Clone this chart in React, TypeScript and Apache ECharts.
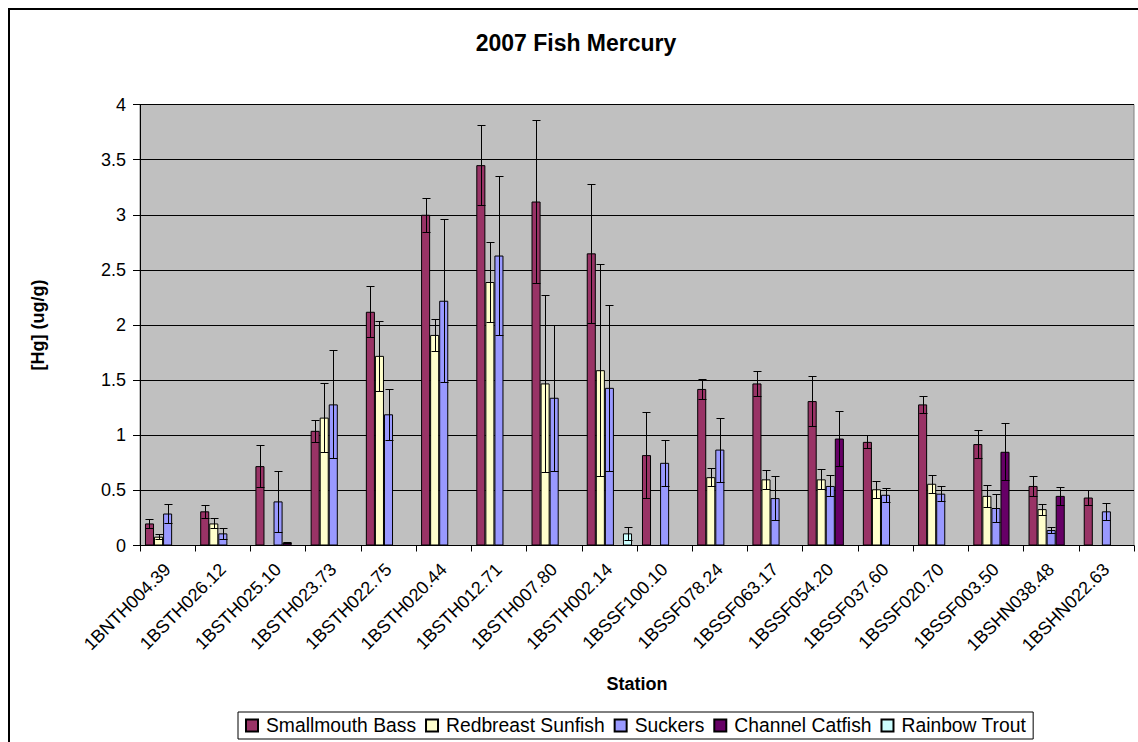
import React, { useEffect, useRef } from "react";
import * as echarts from "echarts";

const stations = [
  "1BNTH004.39", "1BSTH026.12", "1BSTH025.10", "1BSTH023.73", "1BSTH022.75",
  "1BSTH020.44", "1BSTH012.71", "1BSTH007.80", "1BSTH002.14", "1BSSF100.10",
  "1BSSF078.24", "1BSSF063.17", "1BSSF054.20", "1BSSF037.60", "1BSSF020.70",
  "1BSSF003.50", "1BSHN038.48", "1BSHN022.63",
];

const smallmouthBass = [0.20, 0.31, 0.72, 1.04, 2.12, 3.00, 3.45, 3.12, 2.65, 0.82, 1.42, 1.47, 1.31, 0.94, 1.28, 0.92, 0.54, 0.435];
const smallmouthBassErr = [0.04, 0.06, 0.19, 0.10, 0.23, 0.155, 0.36, 0.74, 0.63, 0.39, 0.09, 0.11, 0.225, 0.06, 0.08, 0.125, 0.09, 0.07];

const redbreastSunfish = [0.08, 0.20, null, 1.16, 1.72, 1.91, 2.39, 1.47, 1.59, null, 0.62, 0.60, 0.60, 0.51, 0.56, 0.45, 0.33, null];
const redbreastSunfishErr = [0.025, 0.045, null, 0.31, 0.32, 0.145, 0.36, 0.80, 0.96, null, 0.08, 0.085, 0.09, 0.075, 0.08, 0.10, 0.05, null];

const suckers = [0.29, 0.11, 0.40, 1.28, 1.19, 2.22, 2.63, 1.34, 1.43, 0.75, 0.87, 0.43, 0.54, 0.46, 0.47, 0.34, 0.14, 0.31];
const suckersErr = [0.09, 0.05, 0.28, 0.49, 0.23, 0.74, 0.72, 0.66, 0.75, 0.21, 0.29, 0.20, 0.095, 0.065, 0.07, 0.13, 0.03, 0.075];

const channelCatfish = [null, null, 0.027, null, null, null, null, null, null, null, null, null, 0.97, null, null, 0.85, 0.45, null];
const channelCatfishErr = [null, null, 0.006, null, null, null, null, null, null, null, null, null, 0.25, null, null, 0.26, 0.08, null];

const rainbowTrout = [null, null, null, null, null, null, null, null, 0.11, null, null, null, null, null, null, null, null, null];
const rainbowTroutErr = [null, null, null, null, null, null, null, null, 0.06, null, null, null, null, null, null, null, null, null];

const seriesNames = ["Smallmouth Bass", "Redbreast Sunfish", "Suckers", "Channel Catfish", "Rainbow Trout"];
const seriesColors = ["#993366", "#FFFFCC", "#9999FF", "#660066", "#CCFFFF"];
const yTicks = { min: 0, max: 4, interval: 0.5 };

const FONT = "'Liberation Sans', Arial, sans-serif";
const GAP = 0.18;

export default function App() {
  const ref = useRef<HTMLDivElement>(null);

  useEffect(() => {
    if (!ref.current) return;
    const chart = echarts.init(ref.current, null, { renderer: "svg" });

    const values = [smallmouthBass, redbreastSunfish, suckers, channelCatfish, rainbowTrout];
    const errs = [smallmouthBassErr, redbreastSunfishErr, suckersErr, channelCatfishErr, rainbowTroutErr];

    const errData: number[][] = [];
    values.forEach((arr, s) => {
      arr.forEach((v, i) => {
        const e = errs[s][i];
        if (v != null && e != null) {
          errData.push([i, s, Math.max(0, (v as number) - (e as number)), (v as number) + (e as number)]);
        }
      });
    });

    const nSeries = seriesNames.length;

    const barSeries = seriesNames.map((name, s) => ({
      name,
      type: "bar",
      data: values[s],
      barGap: "0%",
      barCategoryGap: `${GAP * 100}%`,
      itemStyle: { color: seriesColors[s], borderColor: "#000", borderWidth: 1 },
      emphasis: { disabled: true },
    }));

    const errSeries = {
      type: "custom",
      name: "err",
      z: 10,
      data: errData,
      encode: { x: 0, y: 3 },
      renderItem: (params: any, api: any) => {
        const cat = api.value(0);
        const s = api.value(1);
        const lo = api.value(2);
        const hi = api.value(3);
        const band = api.size([1, 0])[0];
        const bw = (band * (1 - GAP)) / nSeries;
        const pLo = api.coord([cat, lo]);
        const pHi = api.coord([cat, hi]);
        const xc = Math.round(pLo[0] - (nSeries / 2) * bw + (s + 0.5) * bw) + 0.5;
        const half = Math.max(2, bw / 2 - 0.5);
        const yLo = Math.round(pLo[1]) + 0.5;
        const yHi = Math.round(pHi[1]) + 0.5;
        const style = { stroke: "#000", lineWidth: 1 };
        return {
          type: "group",
          children: [
            { type: "line", shape: { x1: xc, y1: yLo, x2: xc, y2: yHi }, style },
            { type: "line", shape: { x1: xc - half, y1: yHi, x2: xc + half, y2: yHi }, style },
            { type: "line", shape: { x1: xc - half, y1: yLo, x2: xc + half, y2: yLo }, style },
          ],
        };
      },
    };

    chart.setOption({
      animation: false,
      backgroundColor: "#fff",
      textStyle: { fontFamily: FONT, color: "#000" },
      grid: {
        left: 140,
        right: 4,
        top: 104.5,
        bottom: 196.5,
        show: true,
        backgroundColor: "#C0C0C0",
        borderColor: "#808080",
        borderWidth: 1,
      },
      legend: {
        data: seriesNames,
        left: 238,
        top: 712,
        orient: "horizontal",
        itemWidth: 12,
        itemHeight: 12,
        itemGap: 9,
        padding: [4, 7],
        borderColor: "#000",
        borderWidth: 1,
        backgroundColor: "#fff",
        icon: "rect",
        textStyle: { fontFamily: FONT, fontSize: 19.3, color: "#000", padding: [0, 0, 0, 3] },
        selectedMode: false,
      },
      xAxis: {
        type: "category",
        data: stations,
        boundaryGap: true,
        axisLine: { show: true, lineStyle: { color: "#000", width: 1 } },
        axisTick: { show: true, length: 6, interval: 0, lineStyle: { color: "#000" } },
        axisLabel: {
          interval: 0,
          rotate: 45,
          margin: 21,
          fontSize: 18,
          color: "#000",
          fontFamily: FONT,
        },
        splitLine: { show: false },
      },
      yAxis: {
        type: "value",
        min: yTicks.min,
        max: yTicks.max,
        interval: yTicks.interval,
        axisLine: { show: true, lineStyle: { color: "#000", width: 1 } },
        axisTick: { show: true, length: 7, lineStyle: { color: "#000" } },
        axisLabel: { margin: 14, fontSize: 18, color: "#000", fontFamily: FONT },
        splitLine: { show: true, lineStyle: { color: "#000", width: 1 } },
      },
      graphic: [
        {
          type: "rect",
          silent: true,
          z: 100,
          shape: { x: 9, y: 9, width: 1300, height: 900 },
          style: { fill: "none", stroke: "#000", lineWidth: 2 },
        },
        {
          type: "text",
          x: 576,
          y: 43,
          style: {
            text: "2007 Fish Mercury",
            fontFamily: FONT,
            fontSize: 23,
            fontWeight: "bold",
            fill: "#000",
            textAlign: "center",
            textVerticalAlign: "middle",
          },
        },
        {
          type: "text",
          x: 637,
          y: 684,
          style: {
            text: "Station",
            fontFamily: FONT,
            fontSize: 18,
            fontWeight: "bold",
            fill: "#000",
            textAlign: "center",
            textVerticalAlign: "middle",
          },
        },
        {
          type: "text",
          x: 38,
          y: 325,
          rotation: Math.PI / 2,
          style: {
            text: "[Hg] (ug/g)",
            fontFamily: FONT,
            fontSize: 18,
            fontWeight: "bold",
            fill: "#000",
            textAlign: "center",
            textVerticalAlign: "middle",
          },
        },
      ],
      series: [...barSeries, errSeries],
    });

    return () => chart.dispose();
  }, []);

  return (
    <div
      ref={ref}
      style={{ position: "fixed", left: 0, top: 0, width: 1138, height: 742, background: "#fff" }}
    />
  );
}
